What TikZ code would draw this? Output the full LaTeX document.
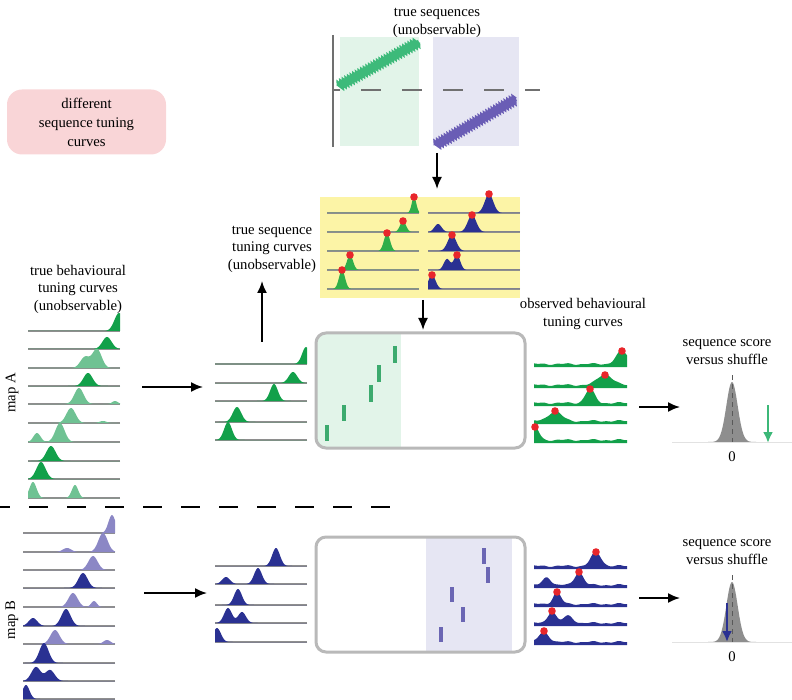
\documentclass[tikz,border=0pt]{standalone}
\usepackage{fontspec}
\setmainfont{Liberation Serif}
\usetikzlibrary{arrows.meta,decorations.pathmorphing}
\definecolor{bggreen}{HTML}{E2F4E9}
\definecolor{bgpurple}{HTML}{E6E6F3}
\definecolor{seqgreen}{HTML}{3DBA7A}
\definecolor{seqpurple}{HTML}{6A5DB5}
\definecolor{yel}{HTML}{FCF4A6}
\definecolor{dkgreen}{HTML}{12A04A}
\definecolor{pgreen}{HTML}{2FAE4A}
\definecolor{ltgreen}{HTML}{6FC293}
\definecolor{navyb}{HTML}{2A3192}
\definecolor{ltpurple}{HTML}{8B87C5}
\definecolor{tickgreen}{HTML}{3CAA6E}
\definecolor{tickpurple}{HTML}{6B66B3}
\definecolor{boxgray}{HTML}{B9B9B9}
\definecolor{basegray}{HTML}{8E8E8E}
\definecolor{dotred}{HTML}{E8262B}
\definecolor{pinkbg}{HTML}{F9D5D7}
\definecolor{axisgray}{HTML}{707070}
\definecolor{gaussgray}{HTML}{8E8E8E}
\definecolor{arrgreen}{HTML}{3CB878}
\definecolor{zeroline}{HTML}{E2E2E2}
\newcommand{\Gs}[3]{(#2)*exp(-min(((\x-(#1))/(#3))*((\x-(#1))/(#3)),30))}
\newcommand{\Nz}{(3+0.6*sin((\x-530)*13)+0.4*sin((\x-530)*29+40))}
\newcommand{\tcurve}[5]{%
  \draw[bl] (#1,#3) -- (#2,#3);
  \fill[#4] plot[domain=#1:#2,samples=100] (\x,{#3-(#5)}) -- (#2,#3) -- (#1,#3) -- cycle;}
\newcommand{\ocurve}[5]{%
  \fill[#4] plot[domain=#1:#2,samples=120, smooth] (\x,{#3-(#5)}) -- (#2,#3) -- (#1,#3) -- cycle;}
\newcommand{\rdot}[2]{\fill[dotred] (#1,#2) circle (3.8pt);}
\begin{document}
\begin{tikzpicture}[x=1pt,y=-1pt,
  lbl/.style={font=\fontsize{14.7}{17.5}\selectfont, align=center, inner sep=0pt},
  arr/.style={line width=1.8pt, -{Latex[length=12pt,width=10pt]}},
  bl/.style={draw=basegray, line width=1.2pt},
  tickA/.style={draw=tickgreen, line width=3.6pt},
  tickB/.style={draw=tickpurple, line width=3.6pt},
  seqline/.style={line width=4.6pt, decorate, decoration={zigzag, segment length=3pt, amplitude=1.6pt}},
]
\useasboundingbox (0,0) rectangle (792,700);

% ---------- pink legend box ----------
\node[lbl, fill=pinkbg, rounded corners=15pt, minimum width=159pt, minimum height=65pt, font=\fontsize{14.7}{19}\selectfont] (legend) at (86.5,122) {different\\sequence tuning\\curves};

% ---------- top panel: true sequences ----------
\node[lbl] (tsTitle) at (437,23) {true sequences\\(unobservable)};
\fill[bggreen] (340,37) rectangle (419,146);
\fill[bgpurple] (433,37) rectangle (519,146);
\draw[axisgray, line width=2pt] (333,35) -- (333,147);
\draw[axisgray, line width=1.6pt, dash pattern=on 20pt off 21pt, dash phase=13pt] (333,90) -- (540,90);
\draw[seqgreen, seqline] (339,86) -- (419,42);
\draw[seqpurple, seqline] (436,145) -- (516,99);
\coordinate (tsBot) at (437,153);
\coordinate (ylTop) at (437,189);
\draw[arr] (tsBot) -- (ylTop);

% ---------- yellow panel: true sequence tuning curves ----------
\fill[yel] (320,197) rectangle (520,298);
\tcurve{327}{419}{213}{pgreen}{\Gs{414}{16}{3.2}}
\tcurve{327}{419}{232}{pgreen}{\Gs{403}{11}{4.2}}
\tcurve{327}{419}{251}{pgreen}{\Gs{387}{18}{4.2}}
\tcurve{327}{419}{270}{pgreen}{\Gs{350}{15}{4.2}}
\tcurve{327}{419}{289}{pgreen}{\Gs{342}{19}{4.2}}
\rdot{414}{197}\rdot{403}{221}\rdot{387}{233}\rdot{350}{255}\rdot{342}{270}
\tcurve{428}{520}{213}{navyb}{\Gs{489}{19}{6}}
\tcurve{428}{520}{232}{navyb}{\Gs{438}{8}{5}+\Gs{472}{17}{6}}
\tcurve{428}{520}{251}{navyb}{\Gs{452}{16}{6}}
\tcurve{428}{520}{270}{navyb}{\Gs{447}{11}{4.5}+\Gs{457}{15}{4.5}}
\tcurve{428}{520}{289}{navyb}{\Gs{432}{14}{5}}
\rdot{489}{194}\rdot{472}{215}\rdot{452}{235}\rdot{457}{255}\rdot{432}{275}
\node[lbl] (tstcTitle) at (272,249) {true sequence\\tuning curves\\(unobservable)};
\coordinate (upBot) at (262,342);
\coordinate (upTop) at (262,281);
\draw[arr] (upBot) -- (upTop);
\coordinate (ylBot) at (423,300);
\coordinate (boxATop) at (423,330);
\draw[arr] (ylBot) -- (boxATop);

% ---------- left column: true behavioural tuning curves ----------
\node[lbl] (tbTitle) at (78,289) {true behavioural\\tuning curves\\(unobservable)};
\node[lbl, rotate=90] (mapA) at (12,393) {map A};
\node[lbl, rotate=90] (mapB) at (12,620) {map B};
\tcurve{28}{120}{331}{dkgreen}{\Gs{119}{18}{6.5}}
\tcurve{28}{120}{349}{dkgreen}{\Gs{107}{12}{6.5}}
\tcurve{28}{120}{368}{ltgreen}{\Gs{85}{11}{6.5}+\Gs{97}{19}{6.5}}
\tcurve{28}{120}{386}{dkgreen}{\Gs{88}{13}{6.5}}
\tcurve{28}{120}{404}{ltgreen}{\Gs{79}{16}{6.5}+\Gs{115}{3}{4}}
\tcurve{28}{120}{423}{ltgreen}{\Gs{71}{15}{6.5}+\Gs{103}{2}{5}}
\tcurve{28}{120}{442}{ltgreen}{\Gs{60}{19}{6.5}+\Gs{37}{9}{5}}
\tcurve{28}{120}{461}{dkgreen}{\Gs{51}{15}{6.5}}
\tcurve{28}{120}{479}{dkgreen}{\Gs{41}{17}{6.5}}
\tcurve{28}{120}{498}{ltgreen}{\Gs{33}{16}{5}+\Gs{75}{13}{4.5}}

\draw[black, line width=2pt, dash pattern=on 19pt off 19pt, dash phase=9pt] (0,507) -- (392,507);

\tcurve{23}{115}{533}{ltpurple}{\Gs{112}{18}{5}}
\tcurve{23}{115}{552}{ltpurple}{\Gs{103}{19}{6.5}+\Gs{67}{4}{6}}
\tcurve{23}{115}{570}{ltpurple}{\Gs{93}{14}{6.5}}
\tcurve{23}{115}{588}{navyb}{\Gs{83}{15}{6.5}}
\tcurve{23}{115}{607}{ltpurple}{\Gs{73}{14}{6.5}+\Gs{94}{6}{4}}
\tcurve{23}{115}{626}{navyb}{\Gs{66}{17}{6.5}+\Gs{33}{8}{6}}
\tcurve{23}{115}{644}{ltpurple}{\Gs{55}{14}{6.5}+\Gs{107}{4}{5}}
\tcurve{23}{115}{663}{navyb}{\Gs{44}{20}{6.5}}
\tcurve{23}{115}{681}{navyb}{\Gs{36}{14}{6.5}+\Gs{50}{11}{6.5}}
\tcurve{23}{115}{699}{navyb}{\Gs{26}{14}{5}}

% ---------- map A middle ----------
\coordinate (lA1) at (142,387);
\coordinate (lA2) at (203,387);
\draw[arr] (lA1) -- (lA2);
\tcurve{215}{307}{364}{dkgreen}{\Gs{306}{17}{5.5}}
\tcurve{215}{307}{383}{dkgreen}{\Gs{293}{11}{6}}
\tcurve{215}{307}{401}{dkgreen}{\Gs{274}{17}{5.5}}
\tcurve{215}{307}{422}{dkgreen}{\Gs{237}{15}{6}}
\tcurve{215}{307}{440}{dkgreen}{\Gs{228}{18}{5.5}}
\begin{scope}
\clip[rounded corners=10pt] (316,333) rectangle (525,448);
\fill[bggreen] (316,333) rectangle (401,448);
\end{scope}
\draw[boxgray, line width=3pt, rounded corners=10pt] (316,333) rectangle (525,448);
\draw[tickA] (327,425) -- (327,441);
\draw[tickA] (344,405) -- (344,421);
\draw[tickA] (371,385) -- (371,402);
\draw[tickA] (379,365) -- (379,382);
\draw[tickA] (395,346) -- (395,363);

\node[lbl] (obsTitle) at (583,314) {observed behavioural\\tuning curves};
\ocurve{534}{627}{367}{dkgreen}{\Nz+\Gs{622}{13}{8}}
\ocurve{534}{627}{388}{dkgreen}{\Nz+\Gs{605}{11}{10}}
\ocurve{534}{627}{406}{dkgreen}{\Nz+\Gs{590}{14}{6.5}}
\ocurve{534}{627}{424}{dkgreen}{\Nz+\Gs{555}{10}{9}}
\ocurve{534}{627}{443}{dkgreen}{\Nz+\Gs{535}{13}{5.5}}
\rdot{622}{351}\rdot{605}{375}\rdot{590}{389}\rdot{555}{411}\rdot{535}{427}
\coordinate (rA1) at (639,407);
\coordinate (rA2) at (680,407);
\draw[arr] (rA1) -- (rA2);
\node[lbl] (scoreA) at (727,352) {sequence score\\versus shuffle};
\draw[zeroline, line width=1pt] (672,442) -- (792,442);
\fill[gaussgray] plot[domain=708:756,samples=80] (\x,{442-\Gs{732}{60}{8}}) -- cycle;
\draw[black!65, line width=1pt, dash pattern=on 5pt off 4pt] (732,375) -- (732,442);
\node[lbl] (zeroA) at (732,457) {0};
\draw[arrgreen, line width=2.6pt, -{Latex[length=11pt,width=10pt]}] (768,405) -- (768,443);

% ---------- map B middle ----------
\coordinate (lB1) at (144,593);
\coordinate (lB2) at (207,593);
\draw[arr] (lB1) -- (lB2);
\tcurve{215}{307}{566}{navyb}{\Gs{276}{18}{5.5}}
\tcurve{215}{307}{584}{navyb}{\Gs{226}{7}{5.5}+\Gs{258}{16}{5.5}}
\tcurve{215}{307}{605}{navyb}{\Gs{238}{16}{5.5}}
\tcurve{215}{307}{623}{navyb}{\Gs{228}{15}{5.5}+\Gs{242}{11}{5.5}}
\tcurve{215}{307}{642}{navyb}{\Gs{217}{14}{5.5}}
\begin{scope}
\clip[rounded corners=10pt] (316,537) rectangle (525,652);
\fill[bgpurple] (426,537) rectangle (512,652);
\end{scope}
\draw[boxgray, line width=3pt, rounded corners=10pt] (316,537) rectangle (525,652);
\draw[tickB] (484,548) -- (484,564);
\draw[tickB] (488,567) -- (488,583);
\draw[tickB] (452,587) -- (452,602);
\draw[tickB] (463,607) -- (463,622);
\draw[tickB] (441,627) -- (441,642);

\ocurve{534}{627}{569}{navyb}{\Nz+\Gs{596}{14}{7}}
\ocurve{534}{627}{588}{navyb}{\Nz+\Gs{547}{8}{5.5}+\Gs{579}{13}{6}}
\ocurve{534}{627}{607}{navyb}{\Nz+\Gs{557}{12}{5.5}}
\ocurve{534}{627}{626}{navyb}{\Nz+\Gs{552}{12}{5.5}+\Gs{568}{7}{7}}
\ocurve{534}{627}{645}{navyb}{\Nz+\Gs{544}{10}{7}}
\rdot{596}{552}\rdot{579}{572}\rdot{557}{592}\rdot{552}{611}\rdot{544}{631}
\coordinate (rB1) at (639,598);
\coordinate (rB2) at (680,598);
\draw[arr] (rB1) -- (rB2);
\node[lbl] (scoreB) at (727,552) {sequence score\\versus shuffle};
\draw[zeroline, line width=1pt] (672,642) -- (792,642);
\fill[gaussgray] plot[domain=708:756,samples=80] (\x,{642-\Gs{732}{60}{8}}) -- cycle;
\draw[black!65, line width=1pt, dash pattern=on 5pt off 4pt] (732,575) -- (732,642);
\node[lbl] (zeroB) at (732,657) {0};
\draw[navyb, line width=2.6pt, -{Latex[length=11pt,width=10pt]}] (727,603) -- (727,642);
\end{tikzpicture}
\end{document}
